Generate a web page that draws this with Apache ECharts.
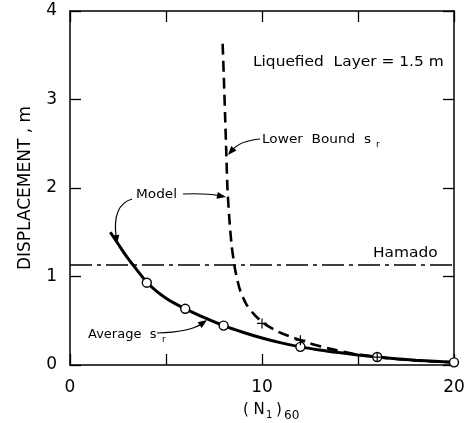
<!DOCTYPE html>
<html>
<head>
<meta charset="utf-8">
<script src="https://cdn.jsdelivr.net/npm/echarts@6/dist/echarts.min.js"></script>
<style>
  html, body { margin: 0; padding: 0; background: #fff; }
  #chart { width: 471px; height: 423px; }
</style>
</head>
<body>
<div id="chart"></div>
<script>
// model curve (solid)
const modelX = [2.1, 2.5, 3, 3.5, 4, 4.5, 5, 5.5, 6, 7, 8, 9, 10, 11, 12, 13, 14, 15, 16, 17, 18, 19, 20]
const modelY = [1.5, 1.37, 1.21, 1.07, 0.935, 0.835, 0.755, 0.69, 0.635, 0.535, 0.445, 0.37, 0.305, 0.25, 0.205, 0.17, 0.14, 0.113, 0.09, 0.071, 0.055, 0.042, 0.03]

// average s_r points (open circles)
const avgX = [4, 6, 8, 12, 16, 20]
const avgY = [0.93, 0.635, 0.445, 0.205, 0.09, 0.03]

// lower bound s_r curve (dashed)
const lowerX = [7.95, 8.02, 8.08, 8.14, 8.2, 8.3, 8.42, 8.6, 8.85, 9.2, 9.6, 10.1, 10.8, 11.6, 12.5, 13.5, 14.7, 16, 18, 20]
const lowerY = [3.63, 3.2, 2.8, 2.4, 2.0, 1.65, 1.35, 1.08, 0.85, 0.68, 0.57, 0.47, 0.38, 0.31, 0.245, 0.185, 0.13, 0.09, 0.05, 0.03]

// lower bound points (plus marks)
const plusX = [10, 12, 16]
const plusY = [0.47, 0.28, 0.09]

// Hamado level
const hamadoX = [0, 20]
const hamadoY = [1.13, 1.13]

const xTicks = [0, 10, 20]

const zip = (xs, ys) => xs.map((x, i) => [x, ys[i]])

const FONT = 'DejaVu Sans'
const plusPath = 'path://M4.4,0 L5.6,0 L5.6,4.4 L10,4.4 L10,5.6 L5.6,5.6 L5.6,10 L4.4,10 L4.4,5.6 L0,5.6 L0,4.4 L4.4,4.4 Z'

// curved leader with an arrowhead at (x2, y2)
const arrow = (x1, y1, cx, cy, x2, y2) => {
  const dx = x2 - cx, dy = y2 - cy
  const len = Math.sqrt(dx * dx + dy * dy)
  const ux = dx / len, uy = dy / len
  const hl = 9, hw = 3.5
  const bx = x2 - ux * hl, by = y2 - uy * hl
  return [
    {
      type: 'bezierCurve',
      shape: { x1: x1, y1: y1, cpx1: cx, cpy1: cy, x2: bx + ux * 2, y2: by + uy * 2 },
      style: { stroke: '#000', lineWidth: 1.2, fill: null }
    },
    {
      type: 'polygon',
      shape: { points: [[x2, y2], [bx - uy * hw, by + ux * hw], [bx + uy * hw, by - ux * hw]] },
      style: { fill: '#000' }
    }
  ]
}

const label = (text, x, y, size, sx) => ({
  type: 'text', x: x, y: y, scaleX: sx || 1,
  style: { text: text, font: (size || 13) + 'px "' + FONT + '"', fill: '#000', align: 'left', verticalAlign: 'middle' }
})

const chart = echarts.init(document.getElementById('chart'))

const axisCommon = {
  axisLine: { show: true, onZero: false, lineStyle: { color: '#000', width: 1.5 } },
  axisTick: { show: true, inside: true, length: 11, lineStyle: { color: '#000', width: 1.3 } },
  splitLine: { show: false }
}

let option = {
  animation: false,
  backgroundColor: '#fff',
  grid: { left: 70, right: 17, top: 11, bottom: 58 },
  xAxis: [
    Object.assign({
      type: 'value', min: 0, max: 20, interval: 5,
      axisLabel: {
        margin: 14, color: '#000', fontFamily: FONT, fontSize: 17,
        formatter: v => xTicks.indexOf(v) >= 0 ? String(v) : ''
      }
    }, axisCommon),
    Object.assign({
      type: 'value', min: 0, max: 20, interval: 5, position: 'top',
      axisLabel: { show: false }
    }, axisCommon)
  ],
  yAxis: [
    Object.assign({
      type: 'value', min: 0, max: 4, interval: 1,
      name: 'DISPLACEMENT , m', nameLocation: 'middle', nameGap: 36,
      nameTextStyle: { color: '#000', fontFamily: FONT, fontSize: 17 },
      axisLabel: { margin: 13, color: '#000', fontFamily: FONT, fontSize: 17 }
    }, axisCommon),
    Object.assign({
      type: 'value', min: 0, max: 4, interval: 1, position: 'right',
      axisLabel: { show: false }
    }, axisCommon)
  ],
  series: [
    {
      name: 'Hamado', type: 'line', data: zip(hamadoX, hamadoY), symbol: 'none',
      lineStyle: { color: '#000', width: 1.6, type: [22, 5, 4, 5] }, z: 2
    },
    {
      name: 'Lower Bound', type: 'line', data: zip(lowerX, lowerY), symbol: 'none',
      smooth: 0.25,
      lineStyle: { color: '#000', width: 2.6, type: [11, 6] }, z: 3
    },
    {
      name: 'Model', type: 'line', data: zip(modelX, modelY), symbol: 'none',
      smooth: 0.3,
      lineStyle: { color: '#000', width: 3 }, z: 3
    },
    {
      name: 'Average', type: 'scatter', data: zip(avgX, avgY),
      symbol: 'circle', symbolSize: 9,
      itemStyle: { color: '#fff', borderColor: '#000', borderWidth: 1.4, opacity: 1 }, z: 5
    },
    {
      name: 'Lower points', type: 'scatter', data: zip(plusX, plusY),
      symbol: plusPath, symbolSize: 10,
      itemStyle: { color: '#000', opacity: 1 }, z: 6
    }
  ],
  graphic: [
    label('Liquefied  Layer = 1.5 m', 253, 62, 14, 1.1),
    label('Lower  Bound  s', 262, 140, 13, 1.05),
    label('r', 376, 145, 9),
    label('Model', 136, 195, 13, 1.05),
    label('Average  s', 88, 335, 13),
    label('r', 162, 340, 9),
    label('Hamado', 373, 253, 14, 1.1),
    // x axis title (N1)60
    label('( N', 243, 410, 15),
    label('1', 266, 415, 10),
    label(')', 276, 410, 15),
    label('60', 284, 416, 12)
  ]
    .concat(arrow(260, 139, 240, 141, 228, 155))
    .concat(arrow(183, 194, 205, 193, 226, 197))
    .concat(arrow(132, 199, 112, 205, 117, 244))
    .concat(arrow(157, 333, 190, 332, 207, 320))
}

chart.setOption(option)
</script>
</body>
</html>
